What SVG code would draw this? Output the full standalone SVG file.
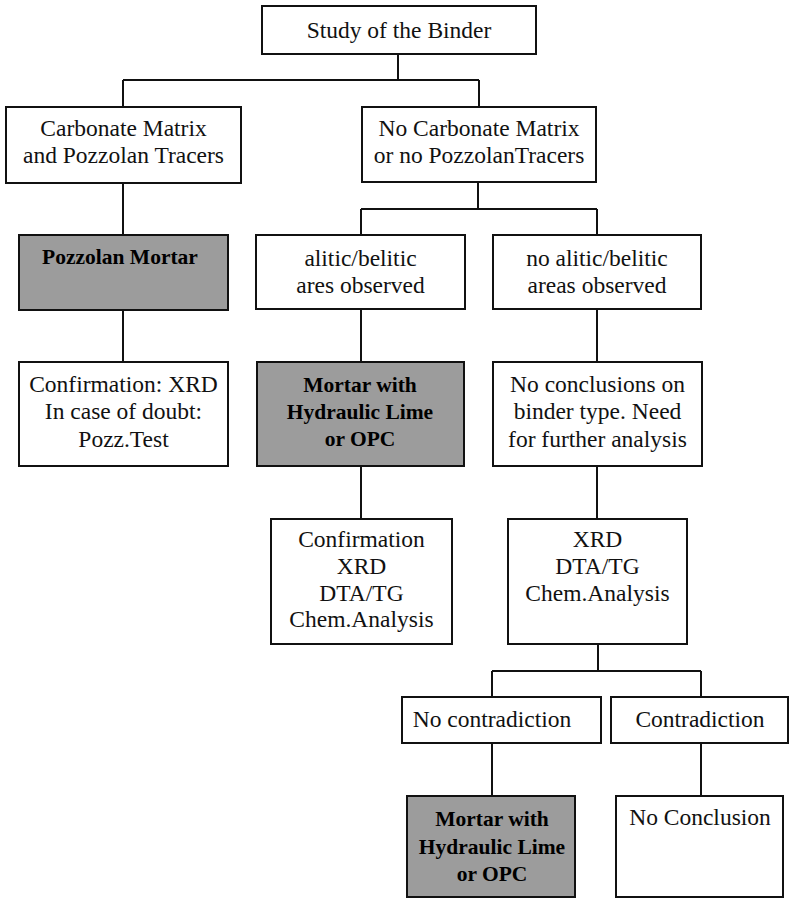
<svg xmlns="http://www.w3.org/2000/svg" width="789" height="899" viewBox="0 0 789 899">
<style>
.box{fill:#ffffff;stroke:#111111;stroke-width:2}
.shade{fill:#9c9c9c;stroke:#111111;stroke-width:2}
.t{font-family:'Liberation Serif','DejaVu Serif',serif;font-size:23.5px;font-weight:normal;fill:#111111;text-anchor:middle}
.b{font-family:'Liberation Serif','DejaVu Serif',serif;font-size:21.5px;font-weight:bold;fill:#000000;text-anchor:middle}
.c{fill:none;stroke:#111111;stroke-width:2}
</style>
<rect width="789" height="899" fill="#ffffff"/>
<g id="connectors">
<path class="c" d="M398,54 V80 M123,80 H479 M123,80 V107 M479,80 V107"/>
<path class="c" d="M123,183 V235 M123,310 V362"/>
<path class="c" d="M478,182 V209 M361,209 H597 M361,209 V235 M597,209 V235"/>
<path class="c" d="M361,309 V362 M361,466 V519"/>
<path class="c" d="M597,309 V362 M597,466 V519"/>
<path class="c" d="M598,644 V671 M492,671 H701 M492,671 V697 M701,671 V697"/>
<path class="c" d="M492,743 V796 M701,743 V796"/>
</g>
<g id="n-study">
<rect class="box" x="262" y="6" width="274" height="48"/>
<text class="t" x="399" y="38">Study of the Binder</text>
</g>
<g id="n-carbonate">
<rect class="box" x="6" y="107" width="235" height="76"/>
<text class="t" x="123.5" y="136">Carbonate Matrix</text>
<text class="t" x="123.5" y="163">and Pozzolan Tracers</text>
</g>
<g id="n-nocarbonate">
<rect class="box" x="362" y="107" width="234" height="75"/>
<text class="t" x="479" y="136">No Carbonate Matrix</text>
<text class="t" x="479" y="163">or no PozzolanTracers</text>
</g>
<g id="n-pozzolan-mortar">
<rect class="shade" x="19" y="235" width="209" height="75"/>
<text class="b" x="120" y="264">Pozzolan Mortar</text>
</g>
<g id="n-alitic">
<rect class="box" x="256" y="235" width="209" height="74"/>
<text class="t" x="360.5" y="266">alitic/belitic</text>
<text class="t" x="360.5" y="293">ares observed</text>
</g>
<g id="n-noalitic">
<rect class="box" x="493" y="235" width="208" height="74"/>
<text class="t" x="597" y="266">no alitic/belitic</text>
<text class="t" x="597" y="293">areas observed</text>
</g>
<g id="n-confirm-xrd">
<rect class="box" x="19" y="362" width="209" height="104"/>
<text class="t" x="123.5" y="392">Confirmation: XRD</text>
<text class="t" x="123.5" y="419">In case of doubt:</text>
<text class="t" x="123.5" y="447">Pozz.Test</text>
</g>
<g id="n-mortar-hl-1">
<rect class="shade" x="257" y="362" width="207" height="104"/>
<text class="b" x="360" y="392">Mortar with</text>
<text class="b" x="360" y="419">Hydraulic Lime</text>
<text class="b" x="360" y="446">or OPC</text>
</g>
<g id="n-noconclusions">
<rect class="box" x="493" y="362" width="209" height="104"/>
<text class="t" x="597.5" y="392">No conclusions on</text>
<text class="t" x="597.5" y="419">binder type. Need</text>
<text class="t" x="597.5" y="447">for further analysis</text>
</g>
<g id="n-confirmation">
<rect class="box" x="271" y="519" width="181" height="125"/>
<text class="t" x="361.5" y="547">Confirmation</text>
<text class="t" x="361.5" y="574">XRD</text>
<text class="t" x="361.5" y="601">DTA/TG</text>
<text class="t" x="361.5" y="627">Chem.Analysis</text>
</g>
<g id="n-xrd">
<rect class="box" x="508" y="519" width="179" height="125"/>
<text class="t" x="597.5" y="547">XRD</text>
<text class="t" x="597.5" y="574">DTA/TG</text>
<text class="t" x="597.5" y="601">Chem.Analysis</text>
</g>
<g id="n-nocontradiction">
<rect class="box" x="402" y="697" width="199" height="46"/>
<text class="t" x="492" y="727">No contradiction</text>
</g>
<g id="n-contradiction">
<rect class="box" x="611" y="697" width="177" height="46"/>
<text class="t" x="700" y="727">Contradiction</text>
</g>
<g id="n-mortar-hl-2">
<rect class="shade" x="407" y="796" width="168" height="101"/>
<text class="b" x="492" y="826">Mortar with</text>
<text class="b" x="492" y="854">Hydraulic Lime</text>
<text class="b" x="492" y="881">or OPC</text>
</g>
<g id="n-noconclusion">
<rect class="box" x="616" y="796" width="167" height="101"/>
<text class="t" x="700" y="825">No Conclusion</text>
</g>
</svg>
